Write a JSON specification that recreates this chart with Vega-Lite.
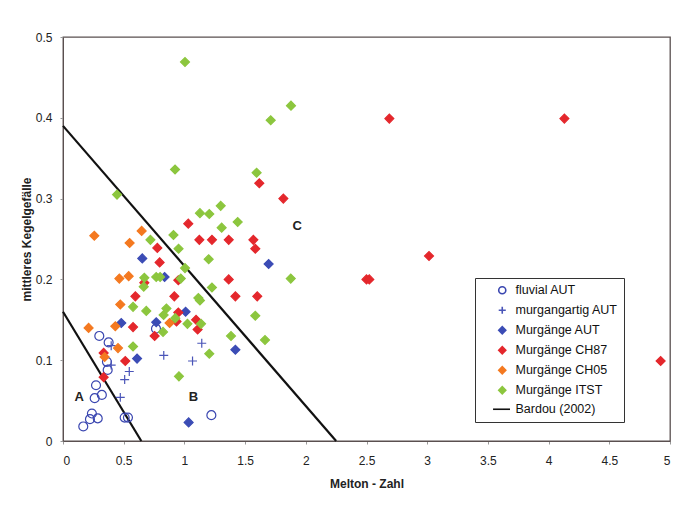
{
  "$schema": "https://vega.github.io/schema/vega-lite/v6.json",
  "width": 607,
  "height": 404,
  "autosize": {"type": "none"},
  "padding": {"left": 63, "top": 37, "right": 11, "bottom": 76},
  "background": "white",
  "config": {
    "font": "Liberation Sans",
    "view": {"stroke": "#5a5050", "strokeWidth": 1.3},
    "axis": {
      "grid": false,
      "domainColor": "#5a5050",
      "tickColor": "#999999",
      "tickSize": 3,
      "labelFontSize": 12,
      "labelColor": "#222222",
      "titleFontSize": 12,
      "titleFontWeight": "bold",
      "titleColor": "#222222"
    },
    "legend": {
      "fillColor": "white", "strokeColor": "#333333", "padding": 6,
      "symbolOffset": 15, "labelOffset": 7, "rowPadding": 6,
      "labelFontSize": 12.5, "labelColor": "#111111", "symbolSize": 50, "symbolStrokeWidth": 1.6
    }
  },
  "datasets": {
    "pts": [
      {"series": "fluvial AUT", "x": 0.167, "y": 0.018},
      {"series": "fluvial AUT", "x": 0.222, "y": 0.027},
      {"series": "fluvial AUT", "x": 0.238, "y": 0.034},
      {"series": "fluvial AUT", "x": 0.286, "y": 0.028},
      {"series": "fluvial AUT", "x": 0.261, "y": 0.053},
      {"series": "fluvial AUT", "x": 0.32, "y": 0.057},
      {"series": "fluvial AUT", "x": 0.272, "y": 0.069},
      {"series": "fluvial AUT", "x": 0.299, "y": 0.13},
      {"series": "fluvial AUT", "x": 0.376, "y": 0.122},
      {"series": "fluvial AUT", "x": 0.362, "y": 0.098},
      {"series": "fluvial AUT", "x": 0.368, "y": 0.088},
      {"series": "fluvial AUT", "x": 0.508, "y": 0.029},
      {"series": "fluvial AUT", "x": 0.535, "y": 0.029},
      {"series": "fluvial AUT", "x": 0.766, "y": 0.139},
      {"series": "fluvial AUT", "x": 1.222, "y": 0.032},
      {"series": "murgangartig AUT", "x": 0.397, "y": 0.118},
      {"series": "murgangartig AUT", "x": 0.397, "y": 0.094},
      {"series": "murgangartig AUT", "x": 0.546, "y": 0.086},
      {"series": "murgangartig AUT", "x": 0.508, "y": 0.076},
      {"series": "murgangartig AUT", "x": 0.472, "y": 0.054},
      {"series": "murgangartig AUT", "x": 0.83, "y": 0.106},
      {"series": "murgangartig AUT", "x": 1.143, "y": 0.121},
      {"series": "murgangartig AUT", "x": 1.067, "y": 0.099},
      {"series": "Murgänge AUT", "x": 0.653, "y": 0.226},
      {"series": "Murgänge AUT", "x": 0.837, "y": 0.203},
      {"series": "Murgänge AUT", "x": 0.48, "y": 0.146},
      {"series": "Murgänge AUT", "x": 0.768, "y": 0.147},
      {"series": "Murgänge AUT", "x": 0.61, "y": 0.102},
      {"series": "Murgänge AUT", "x": 1.01, "y": 0.16},
      {"series": "Murgänge AUT", "x": 1.42, "y": 0.113},
      {"series": "Murgänge AUT", "x": 1.035, "y": 0.023},
      {"series": "Murgänge AUT", "x": 1.694, "y": 0.219},
      {"series": "Murgänge CH87", "x": 0.777, "y": 0.239},
      {"series": "Murgänge CH87", "x": 0.796, "y": 0.221},
      {"series": "Murgänge CH87", "x": 0.67, "y": 0.196},
      {"series": "Murgänge CH87", "x": 0.596, "y": 0.179},
      {"series": "Murgänge CH87", "x": 0.917, "y": 0.179},
      {"series": "Murgänge CH87", "x": 0.95, "y": 0.159},
      {"series": "Murgänge CH87", "x": 0.935, "y": 0.148},
      {"series": "Murgänge CH87", "x": 0.577, "y": 0.141},
      {"series": "Murgänge CH87", "x": 0.755, "y": 0.13},
      {"series": "Murgänge CH87", "x": 0.335, "y": 0.109},
      {"series": "Murgänge CH87", "x": 0.513, "y": 0.099},
      {"series": "Murgänge CH87", "x": 0.335, "y": 0.079},
      {"series": "Murgänge CH87", "x": 1.096, "y": 0.15},
      {"series": "Murgänge CH87", "x": 1.109, "y": 0.138},
      {"series": "Murgänge CH87", "x": 1.617, "y": 0.319},
      {"series": "Murgänge CH87", "x": 1.815, "y": 0.3},
      {"series": "Murgänge CH87", "x": 1.032, "y": 0.269},
      {"series": "Murgänge CH87", "x": 1.123, "y": 0.249},
      {"series": "Murgänge CH87", "x": 1.227, "y": 0.249},
      {"series": "Murgänge CH87", "x": 1.365, "y": 0.249},
      {"series": "Murgänge CH87", "x": 1.568, "y": 0.249},
      {"series": "Murgänge CH87", "x": 1.584, "y": 0.238},
      {"series": "Murgänge CH87", "x": 0.95, "y": 0.199},
      {"series": "Murgänge CH87", "x": 1.365, "y": 0.2},
      {"series": "Murgänge CH87", "x": 1.42, "y": 0.179},
      {"series": "Murgänge CH87", "x": 1.6, "y": 0.179},
      {"series": "Murgänge CH87", "x": 2.688, "y": 0.399},
      {"series": "Murgänge CH87", "x": 4.13, "y": 0.399},
      {"series": "Murgänge CH87", "x": 3.015, "y": 0.229},
      {"series": "Murgänge CH87", "x": 2.5, "y": 0.2},
      {"series": "Murgänge CH87", "x": 2.523, "y": 0.2},
      {"series": "Murgänge CH87", "x": 4.923, "y": 0.099},
      {"series": "Murgänge CH05", "x": 0.258, "y": 0.254},
      {"series": "Murgänge CH05", "x": 0.648, "y": 0.26},
      {"series": "Murgänge CH05", "x": 0.549, "y": 0.245},
      {"series": "Murgänge CH05", "x": 0.464, "y": 0.201},
      {"series": "Murgänge CH05", "x": 0.541, "y": 0.204},
      {"series": "Murgänge CH05", "x": 0.472, "y": 0.169},
      {"series": "Murgänge CH05", "x": 0.211, "y": 0.14},
      {"series": "Murgänge CH05", "x": 0.431, "y": 0.142},
      {"series": "Murgänge CH05", "x": 0.878, "y": 0.146},
      {"series": "Murgänge CH05", "x": 0.453, "y": 0.115},
      {"series": "Murgänge CH05", "x": 0.343, "y": 0.104},
      {"series": "Murgänge ITST", "x": 1.005, "y": 0.469},
      {"series": "Murgänge ITST", "x": 1.878, "y": 0.415},
      {"series": "Murgänge ITST", "x": 1.711, "y": 0.397},
      {"series": "Murgänge ITST", "x": 0.923, "y": 0.336},
      {"series": "Murgänge ITST", "x": 1.595, "y": 0.332},
      {"series": "Murgänge ITST", "x": 0.445, "y": 0.305},
      {"series": "Murgänge ITST", "x": 1.299, "y": 0.291},
      {"series": "Murgänge ITST", "x": 1.128, "y": 0.282},
      {"series": "Murgänge ITST", "x": 1.205, "y": 0.281},
      {"series": "Murgänge ITST", "x": 1.439, "y": 0.271},
      {"series": "Murgänge ITST", "x": 1.307, "y": 0.264},
      {"series": "Murgänge ITST", "x": 0.72, "y": 0.249},
      {"series": "Murgänge ITST", "x": 0.91, "y": 0.255},
      {"series": "Murgänge ITST", "x": 0.952, "y": 0.238},
      {"series": "Murgänge ITST", "x": 1.2, "y": 0.225},
      {"series": "Murgänge ITST", "x": 1.005, "y": 0.214},
      {"series": "Murgänge ITST", "x": 0.67, "y": 0.202},
      {"series": "Murgänge ITST", "x": 0.768, "y": 0.203},
      {"series": "Murgänge ITST", "x": 0.8, "y": 0.203},
      {"series": "Murgänge ITST", "x": 0.97, "y": 0.201},
      {"series": "Murgänge ITST", "x": 0.665, "y": 0.191},
      {"series": "Murgänge ITST", "x": 1.876, "y": 0.201},
      {"series": "Murgänge ITST", "x": 1.227, "y": 0.19},
      {"series": "Murgänge ITST", "x": 1.115, "y": 0.177},
      {"series": "Murgänge ITST", "x": 1.128, "y": 0.174},
      {"series": "Murgänge ITST", "x": 0.577, "y": 0.166},
      {"series": "Murgänge ITST", "x": 0.686, "y": 0.161},
      {"series": "Murgänge ITST", "x": 0.829, "y": 0.156},
      {"series": "Murgänge ITST", "x": 0.852, "y": 0.164},
      {"series": "Murgänge ITST", "x": 0.925, "y": 0.152},
      {"series": "Murgänge ITST", "x": 1.025, "y": 0.145},
      {"series": "Murgänge ITST", "x": 1.137, "y": 0.145},
      {"series": "Murgänge ITST", "x": 0.824, "y": 0.135},
      {"series": "Murgänge ITST", "x": 0.577, "y": 0.117},
      {"series": "Murgänge ITST", "x": 1.584, "y": 0.155},
      {"series": "Murgänge ITST", "x": 1.664, "y": 0.125},
      {"series": "Murgänge ITST", "x": 1.384, "y": 0.13},
      {"series": "Murgänge ITST", "x": 1.205, "y": 0.108},
      {"series": "Murgänge ITST", "x": 0.955, "y": 0.08}
    ],
    "lines": [
      {"series": "Bardou (2002)", "seg": "a", "x": 0, "y": 0.39},
      {"series": "Bardou (2002)", "seg": "a", "x": 2.25, "y": 0},
      {"series": "Bardou (2002)", "seg": "b", "x": 0, "y": 0.16},
      {"series": "Bardou (2002)", "seg": "b", "x": 0.645, "y": 0}
    ],
    "labels": [
      {"label": "A", "x": 0.134, "y": 0.054},
      {"label": "B", "x": 1.074, "y": 0.055},
      {"label": "C", "x": 1.93, "y": 0.266}
    ]
  },
  "layer": [
    {
      "data": {"name": "lines"},
      "mark": {"type": "line", "strokeWidth": 2.2},
      "encoding": {
        "x": {
          "field": "x", "type": "quantitative",
          "scale": {"domain": [0, 5], "nice": false},
          "axis": {"title": "Melton - Zahl", "values": [0, 0.5, 1, 1.5, 2, 2.5, 3, 3.5, 4, 4.5, 5], "format": "~g", "labelPadding": 11, "titlePadding": 12}
        },
        "y": {
          "field": "y", "type": "quantitative",
          "scale": {"domain": [0, 0.5], "nice": false},
          "axis": {"title": "mittleres Kegelgefälle", "values": [0, 0.1, 0.2, 0.3, 0.4, 0.5], "format": "~g", "labelPadding": 8, "titlePadding": 2}
        },
        "detail": {"field": "seg", "type": "nominal"},
        "stroke": {
          "field": "series", "type": "nominal",
          "scale": {
            "domain": ["fluvial AUT", "murgangartig AUT", "Murgänge AUT", "Murgänge CH87", "Murgänge CH05", "Murgänge ITST", "Bardou (2002)"],
            "range": ["#3a46b0", "#4a55b8", "#3b4cb5", "#e4272c", "#f47920", "#8cc63e", "#111111"]
          },
          "legend": {"title": null, "orient": "none", "legendX": 412, "legendY": 241, "labelExpr": "datum.label + '      '"}
        }
      }
    },
    {
      "data": {"name": "pts"},
      "mark": {"type": "point", "filled": true, "size": 80, "strokeWidth": 1.2, "opacity": 1},
      "encoding": {
        "x": {"field": "x", "type": "quantitative"},
        "y": {"field": "y", "type": "quantitative"},
        "stroke": {"field": "series", "type": "nominal"},
        "shape": {
          "field": "series", "type": "nominal",
          "scale": {
            "domain": ["fluvial AUT", "murgangartig AUT", "Murgänge AUT", "Murgänge CH87", "Murgänge CH05", "Murgänge ITST", "Bardou (2002)"],
            "range": ["circle", "M-1,0H1M0,-1V1", "diamond", "diamond", "diamond", "diamond", "M-2.6,0H2.2"]
          },
          "legend": {"title": null, "orient": "none", "legendX": 412, "legendY": 241, "labelExpr": "datum.label + '      '"}
        },
        "fill": {
          "field": "series", "type": "nominal",
          "scale": {
            "domain": ["fluvial AUT", "murgangartig AUT", "Murgänge AUT", "Murgänge CH87", "Murgänge CH05", "Murgänge ITST", "Bardou (2002)"],
            "range": ["transparent", "transparent", "#3b4cb5", "#e4272c", "#f47920", "#8cc63e", "transparent"]
          },
          "legend": {"title": null, "orient": "none", "legendX": 412, "legendY": 241, "labelExpr": "datum.label + '      '"}
        }
      }
    },
    {
      "data": {"name": "labels"},
      "mark": {"type": "text", "fontWeight": "bold", "fontSize": 13, "color": "#222222"},
      "encoding": {
        "x": {"field": "x", "type": "quantitative"},
        "y": {"field": "y", "type": "quantitative"},
        "text": {"field": "label", "type": "nominal"}
      }
    }
  ]
}
